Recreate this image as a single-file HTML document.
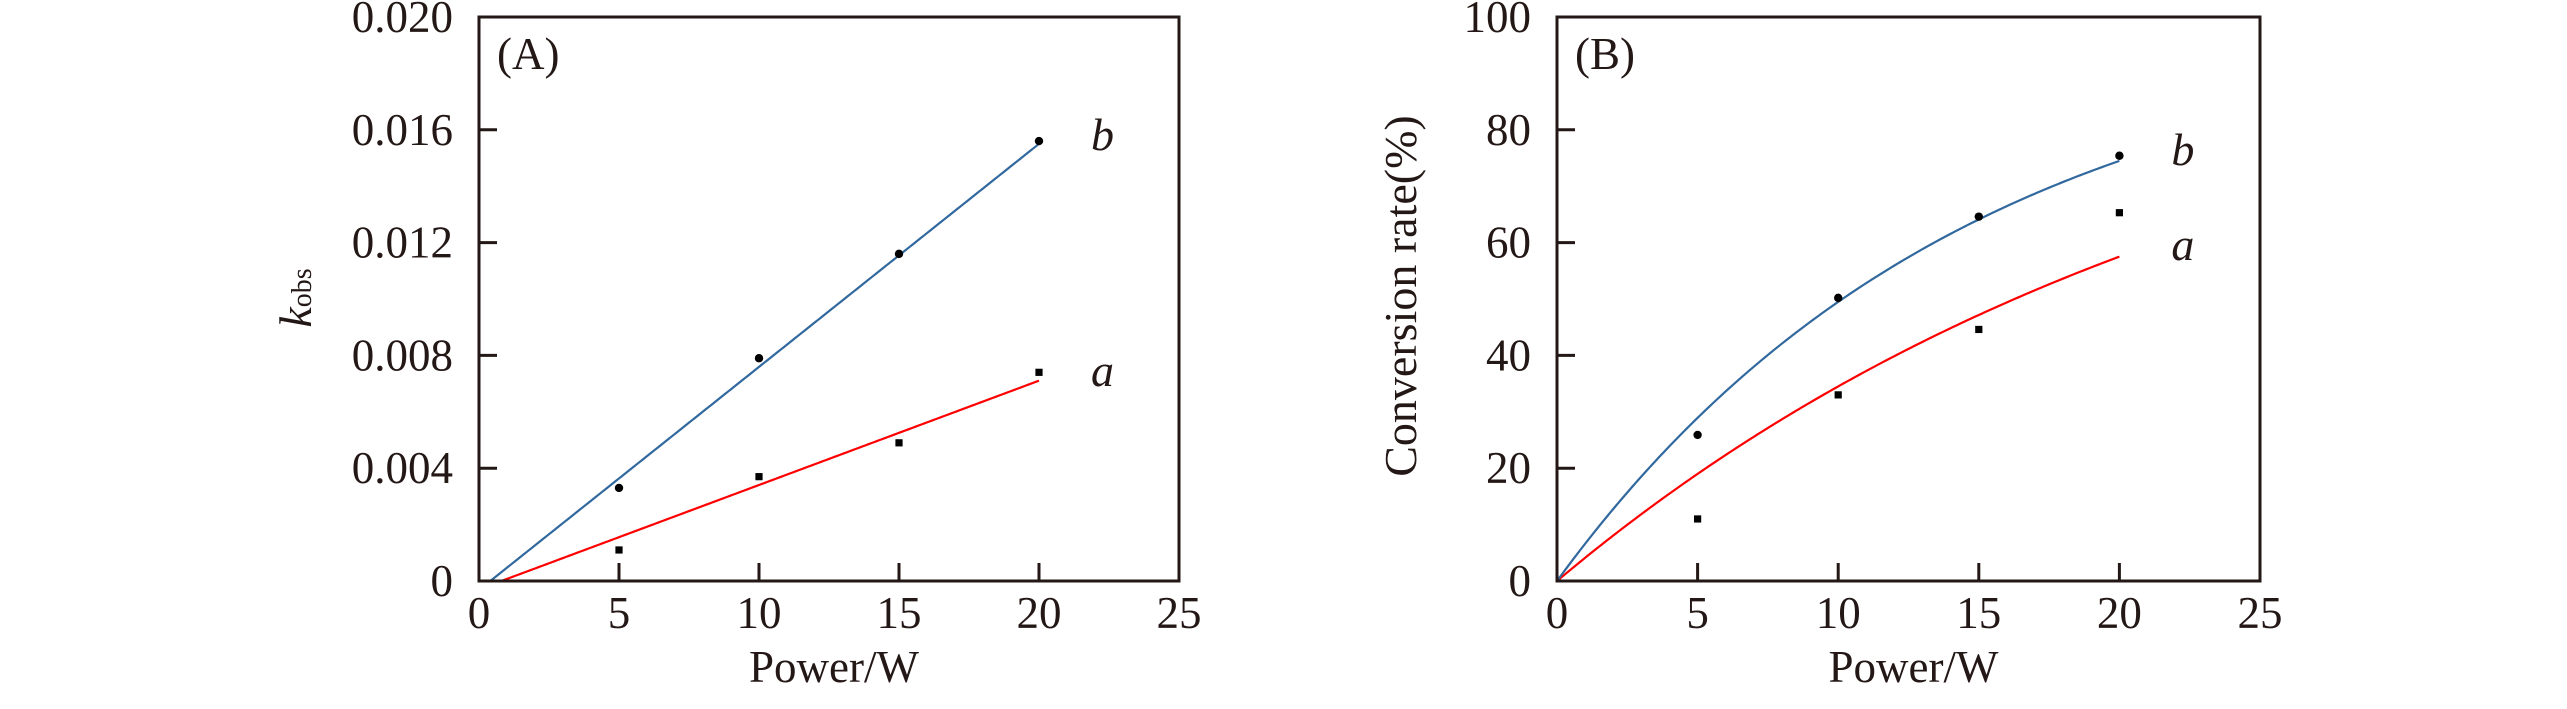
<!DOCTYPE html>
<html><head><meta charset="utf-8"><style>
html,body{margin:0;padding:0;background:#fff;}
svg{display:block;font-family:"Liberation Serif","Times New Roman",serif;}
</style></head><body>
<svg id="chart" width="2567" height="709" viewBox="0 0 2567 709" xmlns="http://www.w3.org/2000/svg"></svg>
<script>
// Panel A data
const powerA = [5, 10, 15, 20];
const kobsB = [0.0033, 0.0079, 0.0116, 0.0156];
const kobsA = [0.0011, 0.0037, 0.0049, 0.0074];
const fitSlopeA = [0.000370, 0.000791];      // [a, b]
const fitInterceptA = [-0.000296, -0.000318]; // [a, b]
const yTicksA = [0, 0.004, 0.008, 0.012, 0.016, 0.020];
const yTickLabelsA = ["0", "0.004", "0.008", "0.012", "0.016", "0.020"];
const xTicks = [0, 5, 10, 15, 20, 25];
const xTickLabels = ["0", "5", "10", "15", "20", "25"];
// Panel B data
const powerB = [5, 10, 15, 20];
const convB = [25.9, 50.2, 64.6, 75.4];
const convA = [11.0, 33.0, 44.6, 65.3];
const fitAmpB = [103.6, 100.0];   // [a, b]
const fitRateB = [0.0405, 0.0683]; // [a, b]
const yTicksB = [0, 20, 40, 60, 80, 100];
const yTickLabelsB = ["0", "20", "40", "60", "80", "100"];

const NS = "http://www.w3.org/2000/svg";
const svg = document.getElementById("chart");
function mk(tag, attrs, parent) {
  const e = document.createElementNS(NS, tag);
  for (const k in attrs) e.setAttribute(k, attrs[k]);
  (parent || svg).appendChild(e);
  return e;
}
const BLUE = "#31689e", RED = "#ff0000", INK = "#231815";

function panel(opt) {
  const g = mk("g", {});
  
  
  const L = opt.left, R = opt.right, T = 17, B = 581;
  const sx = v => L + (v - 0) / 25 * (R - L);
  const sy = v => B - (v - opt.ymin) / (opt.ymax - opt.ymin) * (B - T);
  opt.sx = sx; opt.sy = sy;
  // ticks + labels
  opt.yTicks.forEach((t, i) => {
    if (i > 0 && i < opt.yTicks.length - 1) {
      const tk = mk("line", {x1: L, x2: L + 18, y1: sy(t), y2: sy(t), stroke: INK, "stroke-width": 3}, g);
      
      
    }
    const tx = mk("text", {x: L - 26, y: sy(t) + 15, "font-size": 45, "text-anchor": "end", fill: INK}, g);
    tx.textContent = opt.yLabels[i];
    
    
  });
  xTicks.forEach((t, i) => {
    if (i > 0 && i < xTicks.length - 1) {
      const tk = mk("line", {x1: sx(t), x2: sx(t), y1: B, y2: B - 18, stroke: INK, "stroke-width": 3}, g);
      
      
    }
    const tx = mk("text", {x: sx(t), y: 628, "font-size": 45, "text-anchor": "middle", fill: INK}, g);
    tx.textContent = xTickLabels[i];
    
    
  });
  // fit curves
  [0, 1].forEach(s => {
    let d = "";
    for (let i = 0; i <= 200; i++) {
      const x = 20 * i / 200;
      let y = opt.fit(s, x);
      if (y < opt.ymin) continue;
      d += (d ? "L" : "M") + sx(x).toFixed(2) + "," + sy(y).toFixed(2);
    }
    if (opt.fitStart) {
      const x0 = opt.fitStart(s);
      d = "M" + sx(x0).toFixed(2) + "," + sy(0).toFixed(2) + d.replace(/^M/, "L");
    }
    const p = mk("path", {d: d, fill: "none", stroke: s ? BLUE : RED, "stroke-width": 2.2}, g);
    
    
  });
  // markers
  opt.xs.forEach((x, i) => {
    const c = mk("circle", {cx: sx(x), cy: sy(opt.b[i]), r: 4.2, fill: "#000"}, g);
    
    
    const r = mk("rect", {x: sx(x) - 3.6, y: sy(opt.a[i]) - 3.6, width: 7.2, height: 7.2, fill: "#000"}, g);
    
    
  });
  // frame
  const fr = mk("rect", {x: L, y: T, width: R - L, height: B - T, fill: "none", stroke: INK, "stroke-width": 3}, g);
  
  
  // series labels
  const lb = mk("text", {x: sx(20) + 52, y: opt.bLabelY, "font-size": 46, "font-style": "italic", fill: INK}, g);
  lb.textContent = "b";
  
  
  const la = mk("text", {x: sx(20) + 52, y: opt.aLabelY, "font-size": 46, "font-style": "italic", fill: INK}, g);
  la.textContent = "a";
  
  
  const pl = mk("text", {x: L + 18, y: 69, "font-size": 45, fill: INK}, g);
  pl.textContent = opt.panelLabel;
  
  
  const xt = mk("text", {x: (L + R) / 2 + 5, y: 682, "font-size": 45, "text-anchor": "middle", fill: INK}, g);
  xt.textContent = "Power/W";
  
  
  return g;
}

const gA = panel({
  name: "panel-a", left: 479, right: 1179, ymin: 0, ymax: 0.020,
  yTicks: yTicksA, yLabels: yTickLabelsA, xs: powerA, a: kobsA, b: kobsB,
  fit: (s, x) => fitSlopeA[s] * x + fitInterceptA[s],
  fitStart: s => -fitInterceptA[s] / fitSlopeA[s],
  bLabelY: 150, aLabelY: 386, panelLabel: "(A)"
});
const gB = panel({
  name: "panel-b", left: 1557, right: 2260, ymin: 0, ymax: 100,
  yTicks: yTicksB, yLabels: yTickLabelsB, xs: powerB, a: convA, b: convB,
  fit: (s, x) => fitAmpB[s] * (1 - Math.exp(-fitRateB[s] * x)),
  bLabelY: 165, aLabelY: 260, panelLabel: "(B)"
});

// y-axis titles
const ya = mk("text", {transform: "translate(311,298) rotate(-90)", "text-anchor": "middle", fill: INK}, gA);


const t1 = mk("tspan", {"font-size": 46, "font-style": "italic"}, ya); t1.textContent = "k";
const t2 = mk("tspan", {"font-size": 28, dy: 0}, ya); t2.textContent = "obs";

const yb = mk("text", {transform: "translate(1416,296) rotate(-90)", "font-size": 46, "text-anchor": "middle", fill: INK}, gB);
yb.textContent = "Conversion rate(%)";


</script>
</body></html>
